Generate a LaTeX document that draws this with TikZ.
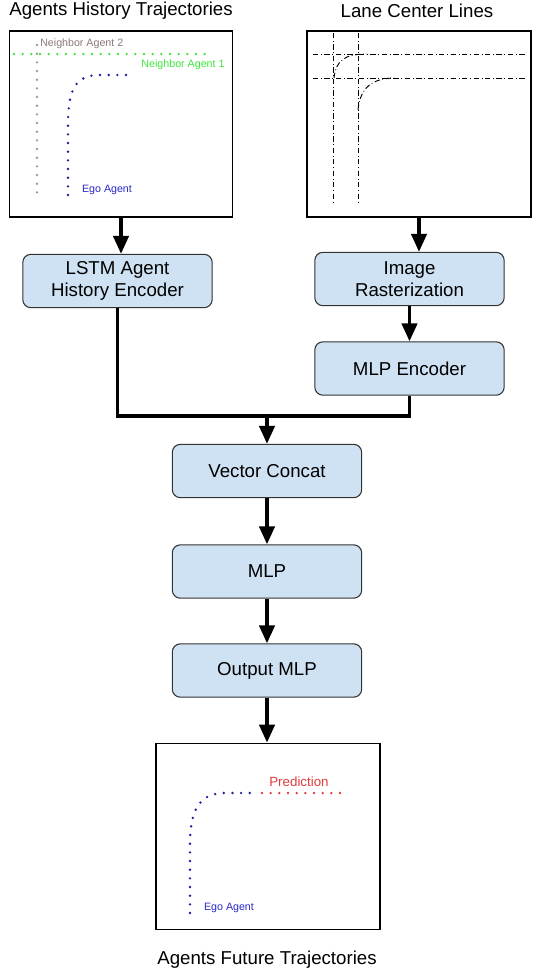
\documentclass[tikz,border=0pt]{standalone}
\usepackage{fontspec}
\setmainfont{Liberation Sans}
\usetikzlibrary{arrows.meta,calc}
\definecolor{boxblue}{HTML}{CFE2F3}
\definecolor{nbgray}{HTML}{9A9A9A}
\definecolor{nbtext}{HTML}{8C7878}
\definecolor{nbgreen}{HTML}{3CE63C}
\definecolor{egoblue}{HTML}{1C1CA0}
\definecolor{egotext}{HTML}{2828C8}
\definecolor{predred}{HTML}{E03C3C}
\tikzset{
	block/.style={draw=black!80, fill=boxblue, rounded corners=6pt, line width=0.8pt, minimum width=142pt, minimum height=40pt, align=center, inner sep=0pt, font=\fontsize{14}{17}\selectfont},
	panel/.style={draw, line width=0.9pt, minimum width=167pt, minimum height=139.5pt, inner sep=0pt},
	arr/.style={line width=2.6pt, -{Triangle[length=13.5pt,width=11.5pt]}},
	link/.style={line width=2.6pt},
	title/.style={font=\fontsize{14}{17}\selectfont},
	dots/.style={line width=2pt, line cap=round, dash pattern=on 0pt off 6.5pt},
	lane/.style={line width=0.7pt, dash pattern=on 4pt off 2pt on 0.6pt off 2pt},
	tag/.style={font=\fontsize{8}{9}\selectfont, inner sep=0pt}
}
\begin{document}
\begin{tikzpicture}[x=0.75pt, y=-0.75pt]
			%%%%% START %%%%%
			\useasboundingbox (0,0) rectangle (534,976);
			
			\node[title] (histtitle) at (121,11) {Agents History Trajectories};
			\node[panel] (hist) at (121,124) {};
			\node[title] (lanetitle) at (417,11) {Lane Center Lines};
			\node[panel, minimum width=168pt] (lane) at (419,124) {};
			
			\node[block] (lstm) at (117.5,281) {LSTM Agent\\History Encoder};
			\node[block] (raster) at (409.5,279) {Image\\Rasterization};
			\node[block] (mlpenc) at (409.5,368.5) {MLP Encoder};
			\node[block] (concat) at (267,471) {Vector Concat};
			\node[block] (mlp) at (267,571.5) {MLP};
			\node[block] (outmlp) at (267,670.5) {Output MLP};
			
			\node[panel, minimum width=168pt, minimum height=140pt] (future) at (268,836.5) {};
			\node[title] (futuretitle) at (267,960) {Agents Future Trajectories};
			
			%%%%% ARROWS %%%%%
			\draw[arr] (hist.south) -- (hist.south |- lstm.north);
			\draw[arr] (lane.south) -- (lane.south |- raster.north);
			\draw[arr] (raster.south) -- (mlpenc.north);
			\coordinate (merge) at (267,416);
			\draw[link] (lstm.south) |- (merge) -| (mlpenc.south);
			\draw[arr] (merge) -- (concat.north);
			\draw[arr] (concat.south) -- (mlp.north);
			\draw[arr] (mlp.south) -- (outmlp.north);
			\draw[arr] (outmlp.south) -- (outmlp.south |- future.north);
			
			%%%%% HISTORY %%%%%
			\draw[dots, nbgray] (37,45) -- (37,195);
			\node[tag, anchor=west, text=nbtext] (nb2) at (40,44) {Neighbor Agent 2};
			\draw[dots, nbgreen] (14,54) -- (207,54);
			\node[tag, text=nbgreen] (nb1) at (183,65) {Neighbor Agent 1};
			\draw[dots, egoblue] (68,195) -- (68,125) .. controls (68,88) and (76,75) .. (100,75) -- (133,75);
			\node[tag, text=egotext] (ego1) at (107,190) {Ego Agent};
			
			%%%%% LANES %%%%%
			\draw[lane] (333,33) -- (333,203);
			\draw[lane] (358,33) -- (358,203);
			\draw[lane] (313,54) -- (525,54);
			\draw[lane] (313,78) -- (525,78);
			\draw[lane] (334,78) .. controls (336,60) and (345,54) .. (367,54);
			\draw[lane] (358,110) .. controls (360,88) and (372,78) .. (395,78);
			
			%%%%% FUTURE %%%%%
			\draw[dots, egoblue] (190,913) -- (190,840) .. controls (191,805) and (203,793) .. (225,793) -- (257,793);
			\draw[dots, predred] (262,793) -- (347,793);
			\node[font=\fontsize{10}{12}\selectfont, text=predred] (pred) at (299,782) {Prediction};
			\node[tag, text=egotext] (ego2) at (229,908) {Ego Agent};
			
			%%%%% END %%%%%
\end{tikzpicture}
\end{document}
